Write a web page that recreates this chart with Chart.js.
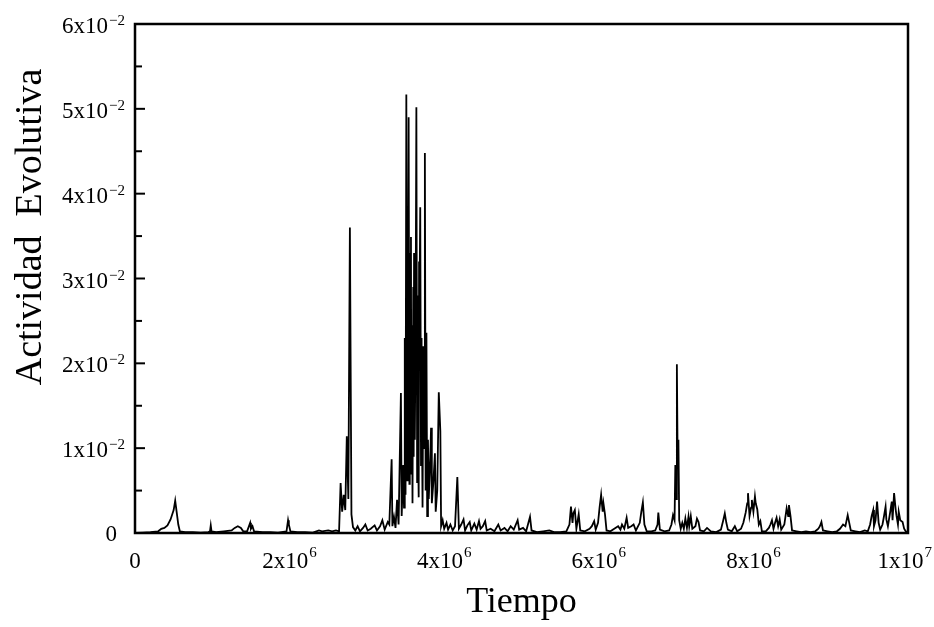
<!DOCTYPE html>
<html>
<head>
<meta charset="utf-8">
<script src="https://cdn.jsdelivr.net/npm/chart.js@4.4.0/dist/chart.umd.min.js"></script>
<style>
  html, body { margin: 0; padding: 0; background: #fff; }
  #wrap { width: 934px; height: 627px; }
</style>
</head>
<body>
<div id="wrap"><canvas id="actividadChart" width="934" height="627"></canvas></div>
<script>
// Tiempo en unidades de 10^6, actividad en unidades de 10^-2
const tiempoM = [
  0.00, 0.10, 0.20, 0.30, 0.34, 0.38, 0.42, 0.46, 0.50, 0.52, 0.54, 0.56, 0.58, 0.65, 0.75, 0.85,
  0.95, 0.97, 0.98, 0.99, 1.05, 1.15, 1.25, 1.29, 1.33, 1.37, 1.40, 1.45, 1.49, 1.50, 1.52, 1.54,
  1.65, 1.75, 1.85, 1.96, 1.98, 1.99, 2.01, 2.10, 2.20, 2.30, 2.38, 2.42, 2.50, 2.55, 2.60, 2.64,
  2.66, 2.68, 2.70, 2.72, 2.74, 2.76, 2.78, 2.80, 2.82, 2.85, 2.88, 2.91, 2.95, 2.98, 3.01, 3.05,
  3.10, 3.13, 3.17, 3.20, 3.23, 3.27, 3.29, 3.32, 3.33, 3.35, 3.37, 3.39, 3.41, 3.44, 3.45, 3.47,
  3.48, 3.49, 3.50, 3.51, 3.52, 3.525, 3.53, 3.54, 3.55, 3.555, 3.56, 3.57, 3.575, 3.58, 3.59, 3.60,
  3.605, 3.61, 3.62, 3.63, 3.64, 3.65, 3.655, 3.66, 3.67, 3.675, 3.68, 3.69, 3.70, 3.705, 3.71, 3.72,
  3.73, 3.74, 3.75, 3.76, 3.77, 3.78, 3.79, 3.80, 3.82, 3.83, 3.84, 3.86, 3.88, 3.89, 3.91, 3.93,
  3.95, 3.96, 3.98, 4.00, 4.03, 4.05, 4.08, 4.11, 4.14, 4.17, 4.19, 4.22, 4.25, 4.27, 4.30, 4.33,
  4.35, 4.39, 4.42, 4.45, 4.47, 4.50, 4.53, 4.55, 4.60, 4.65, 4.70, 4.73, 4.78, 4.82, 4.86, 4.90,
  4.95, 4.97, 5.02, 5.06, 5.11, 5.13, 5.20, 5.28, 5.36, 5.42, 5.50, 5.58, 5.62, 5.64, 5.66, 5.67,
  5.69, 5.71, 5.74, 5.76, 5.82, 5.88, 5.91, 5.94, 5.96, 5.99, 6.01, 6.03, 6.05, 6.06, 6.08, 6.10,
  6.15, 6.20, 6.25, 6.28, 6.30, 6.33, 6.36, 6.38, 6.42, 6.45, 6.48, 6.53, 6.55, 6.57, 6.59, 6.62,
  6.68, 6.73, 6.76, 6.77, 6.79, 6.85, 6.91, 6.94, 6.96, 6.98, 6.99, 7.00, 7.01, 7.02, 7.03, 7.04,
  7.06, 7.08, 7.10, 7.12, 7.14, 7.16, 7.17, 7.19, 7.21, 7.25, 7.27, 7.29, 7.31, 7.36, 7.40, 7.45,
  7.52, 7.58, 7.61, 7.63, 7.65, 7.67, 7.72, 7.76, 7.79, 7.84, 7.87, 7.90, 7.92, 7.93, 7.95, 7.97,
  7.98, 8.00, 8.02, 8.03, 8.05, 8.07, 8.09, 8.11, 8.16, 8.20, 8.22, 8.24, 8.26, 8.28, 8.30, 8.32,
  8.34, 8.36, 8.40, 8.43, 8.45, 8.46, 8.48, 8.50, 8.56, 8.62, 8.68, 8.74, 8.80, 8.84, 8.86, 8.88,
  8.90, 8.96, 9.02, 9.08, 9.12, 9.16, 9.19, 9.22, 9.24, 9.26, 9.32, 9.38, 9.44, 9.48, 9.51, 9.53,
  9.55, 9.56, 9.58, 9.60, 9.62, 9.64, 9.67, 9.69, 9.71, 9.72, 9.74, 9.77, 9.79, 9.80, 9.82, 9.84,
  9.85, 9.87, 9.88, 9.90, 9.93, 9.95, 9.97, 10.0
];
const actividadC = [
  0.00, 0.005, 0.01, 0.02, 0.05, 0.06, 0.09, 0.16, 0.27, 0.38, 0.24, 0.10, 0.02, 0.01, 0.01, 0.005,
  0.01, 0.02, 0.09, 0.02, 0.01, 0.02, 0.03, 0.06, 0.08, 0.06, 0.02, 0.02, 0.12, 0.05, 0.08, 0.02,
  0.01, 0.01, 0.005, 0.02, 0.15, 0.10, 0.02, 0.01, 0.01, 0.005, 0.03, 0.02, 0.03, 0.02, 0.03, 0.02,
  0.59, 0.25, 0.45, 0.27, 1.14, 0.40, 3.60, 0.22, 0.07, 0.03, 0.08, 0.02, 0.06, 0.10, 0.03, 0.05,
  0.09, 0.03, 0.08, 0.15, 0.04, 0.13, 0.10, 0.87, 0.08, 0.19, 0.06, 0.39, 0.10, 1.65, 0.20, 0.80,
  0.30, 2.30, 0.45, 5.17, 0.62, 3.00, 1.20, 4.90, 0.58, 3.30, 1.50, 3.49, 0.70, 2.45, 0.35, 2.90,
  0.90, 3.30, 1.10, 2.40, 5.02, 0.60, 2.80, 1.40, 0.42, 3.20, 2.60, 3.84, 0.80, 2.30, 1.90, 0.30,
  2.20, 1.00, 4.48, 0.50, 2.36, 0.20, 1.10, 0.40, 0.90, 1.24, 0.35, 0.60, 0.94, 0.25, 0.50, 1.66,
  1.20, 0.08, 0.15, 0.05, 0.12, 0.04, 0.10, 0.03, 0.08, 0.66, 0.05, 0.10, 0.16, 0.03, 0.09, 0.13,
  0.03, 0.11, 0.04, 0.14, 0.05, 0.08, 0.14, 0.03, 0.05, 0.02, 0.10, 0.03, 0.06, 0.02, 0.08, 0.04,
  0.15, 0.04, 0.06, 0.02, 0.19, 0.03, 0.01, 0.02, 0.03, 0.01, 0.01, 0.02, 0.10, 0.31, 0.12, 0.23,
  0.27, 0.05, 0.22, 0.03, 0.02, 0.05, 0.08, 0.14, 0.04, 0.12, 0.30, 0.45, 0.25, 0.35, 0.22, 0.03,
  0.02, 0.05, 0.08, 0.04, 0.10, 0.05, 0.18, 0.06, 0.08, 0.10, 0.03, 0.12, 0.25, 0.36, 0.10, 0.02,
  0.02, 0.03, 0.10, 0.24, 0.04, 0.02, 0.03, 0.10, 0.21, 0.15, 0.80, 0.40, 1.99, 0.85, 1.10, 0.15,
  0.05, 0.12, 0.05, 0.17, 0.06, 0.19, 0.08, 0.20, 0.05, 0.08, 0.17, 0.13, 0.03, 0.02, 0.06, 0.02,
  0.01, 0.04, 0.15, 0.23, 0.12, 0.04, 0.02, 0.08, 0.02, 0.05, 0.12, 0.24, 0.35, 0.47, 0.20, 0.30,
  0.39, 0.25, 0.43, 0.35, 0.28, 0.10, 0.14, 0.02, 0.02, 0.06, 0.10, 0.15, 0.05, 0.12, 0.18, 0.08,
  0.16, 0.04, 0.10, 0.29, 0.20, 0.33, 0.20, 0.03, 0.02, 0.01, 0.02, 0.01, 0.02, 0.05, 0.08, 0.13,
  0.03, 0.02, 0.01, 0.02, 0.05, 0.10, 0.08, 0.21, 0.12, 0.03, 0.02, 0.01, 0.03, 0.02, 0.10, 0.20,
  0.27, 0.08, 0.15, 0.37, 0.12, 0.04, 0.10, 0.20, 0.31, 0.16, 0.08, 0.25, 0.37, 0.15, 0.47, 0.28,
  0.21, 0.10, 0.25, 0.15, 0.13, 0.05, 0.02, 0.01
];

// Marcas de los ejes
const yTicks = [0, 0.01, 0.02, 0.03, 0.04, 0.05, 0.06];
const yTickLabels = ['0', '1x10', '2x10', '3x10', '4x10', '5x10', '6x10'];
const yTickExp = ['', '\u22122', '\u22122', '\u22122', '\u22122', '\u22122', '\u22122'];
const yMinorTicks = [0.005, 0.015, 0.025, 0.035, 0.045, 0.055];
const xTicks = [0, 2e6, 4e6, 6e6, 8e6, 1e7];
const xTickLabels = ['0', '2x10', '4x10', '6x10', '8x10', '1x10'];
const xTickExp = ['', '6', '6', '6', '6', '7'];

const serif = '"Liberation Serif", "Times New Roman", serif';

const puntos = tiempoM.map((t, i) => ({ x: t * 1e6, y: actividadC[i] * 1e-2 }));

// Marco, marcas y etiquetas con exponente
const marcoPlugin = {
  id: 'marco',
  afterDraw(chart) {
    const { ctx, chartArea: a } = chart;
    const xs = chart.scales.x, ys = chart.scales.y;
    ctx.save();
    ctx.strokeStyle = '#000';
    ctx.fillStyle = '#000';
    ctx.lineWidth = 2.5;
    ctx.strokeRect(a.left, a.top, a.right - a.left, a.bottom - a.top);

    ctx.lineWidth = 2;
    yTicks.forEach(v => {
      const py = ys.getPixelForValue(v);
      ctx.beginPath(); ctx.moveTo(a.left, py); ctx.lineTo(a.left + 10, py); ctx.stroke();
    });
    yMinorTicks.forEach(v => {
      const py = ys.getPixelForValue(v);
      ctx.beginPath(); ctx.moveTo(a.left, py); ctx.lineTo(a.left + 7, py); ctx.stroke();
    });

    // etiquetas eje y
    yTicks.forEach((v, i) => {
      const py = ys.getPixelForValue(v);
      ctx.textBaseline = 'alphabetic';
      ctx.textAlign = 'right';
      if (!yTickExp[i]) {
        ctx.font = '23px ' + serif;
        ctx.fillText(yTickLabels[i], a.left - 18, py + 8);
        return;
      }
      ctx.font = '15px ' + serif;
      const wExp = ctx.measureText(yTickExp[i]).width;
      ctx.fillText(yTickExp[i], a.left - 10, py + 1);
      ctx.font = '23px ' + serif;
      ctx.fillText(yTickLabels[i], a.left - 11 - wExp, py + 9);
    });

    // etiquetas eje x
    xTicks.forEach((v, i) => {
      const px = xs.getPixelForValue(v);
      ctx.textBaseline = 'alphabetic';
      ctx.textAlign = 'left';
      ctx.font = '23px ' + serif;
      const wMain = ctx.measureText(xTickLabels[i]).width;
      ctx.font = '15px ' + serif;
      const wExp = xTickExp[i] ? ctx.measureText(xTickExp[i]).width + 1 : 0;
      let x0 = px - (wMain + wExp) / 2;
      if (x0 + wMain + wExp > 932) x0 = 932 - wMain - wExp;
      ctx.font = '23px ' + serif;
      ctx.fillText(xTickLabels[i], x0, 568);
      if (xTickExp[i]) {
        ctx.font = '15px ' + serif;
        ctx.fillText(xTickExp[i], x0 + wMain + 1, 557);
      }
    });

    // titulos
    ctx.font = '36px ' + serif;
    ctx.textAlign = 'center';
    ctx.textBaseline = 'alphabetic';
    ctx.fillText('Tiempo', (a.left + a.right) / 2, 612);

    ctx.translate(41, 227);
    ctx.rotate(-Math.PI / 2);
    ctx.font = '38px ' + serif;
    ctx.fillText('Actividad  Evolutiva', 0, 0);
    ctx.restore();
  }
};

new Chart(document.getElementById('actividadChart').getContext('2d'), {
  type: 'line',
  data: {
    datasets: [{
      label: 'Actividad Evolutiva',
      data: puntos,
      borderColor: '#000',
      borderWidth: 1.8,
      pointRadius: 0,
      tension: 0,
      fill: false
    }]
  },
  options: {
    responsive: false,
    animation: false,
    devicePixelRatio: 1,
    layout: { padding: { left: 135, right: 26, top: 24, bottom: 94 } },
    plugins: { legend: { display: false }, tooltip: { enabled: false } },
    scales: {
      x: { type: 'linear', min: 0, max: 1e7, display: false },
      y: { type: 'linear', min: 0, max: 0.06, display: false }
    }
  },
  plugins: [marcoPlugin]
});
</script>
</body>
</html>
